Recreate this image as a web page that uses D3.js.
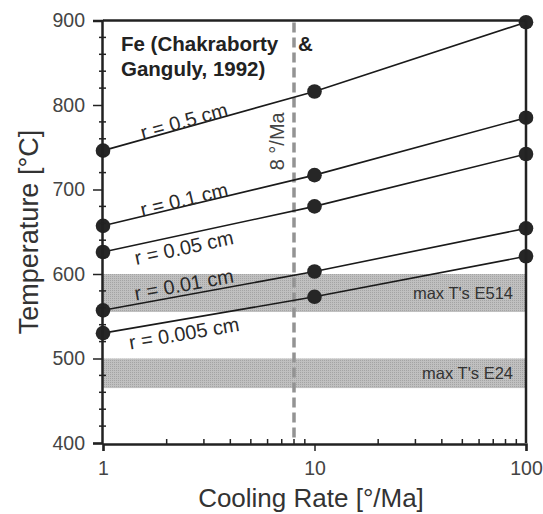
<!DOCTYPE html>
<html>
<head>
<meta charset="utf-8">
<script src="https://cdn.jsdelivr.net/npm/d3@7"></script>
<style>
  body { margin: 0; background: #fff; }
  svg { font-family: "Liberation Sans", Arial, sans-serif; }
</style>
</head>
<body>
<script>
// cooling rates (°/Ma) at which closure T was computed
const rates = [1, 10, 100]
// grain radius labels and closure temperatures (°C)
const radii = ["r = 0.5 cm", "r = 0.1 cm", "r = 0.05 cm", "r = 0.01 cm", "r = 0.005 cm"]
const temps = [
  [746, 816, 898],
  [657, 717, 785],
  [626, 680, 742],
  [557, 603, 654],
  [530, 573, 621]
]
// label offset from line: negative = above, positive = below (px)
const labelSide = [-7, -7, 13, -11, 14]
// shaded bands: max temperatures
const bandNames = ["max T's E514", "max T's E24"]
const bandLow = [555, 465]
const bandHigh = [600, 500]
const refRate = 8
const yTicks = [400, 500, 600, 700, 800, 900]
const xTicks = [1, 10, 100]

const W = 543, H = 514
const margin = {top: 20.5, right: 17, bottom: 71, left: 103}

const svg = d3.select("body").append("svg").attr("width", W).attr("height", H)

const x = d3.scaleLog().domain([1, 100]).range([margin.left, W - margin.right])
const y = d3.scaleLinear().domain([400, 900]).range([H - margin.bottom, margin.top])

// stipple pattern for bands
const defs = svg.append("defs")
const pat = defs.append("pattern").attr("id", "stip")
  .attr("width", 2).attr("height", 2).attr("patternUnits", "userSpaceOnUse")
pat.append("rect").attr("width", 2).attr("height", 2).attr("fill", "#c0c0c0")
pat.append("rect").attr("width", 1).attr("height", 1).attr("fill", "#a4a4a4")

// bands
svg.selectAll(".band").data(bandNames).enter().append("rect")
  .attr("class", "band")
  .attr("x", x(1)).attr("width", x(100) - x(1))
  .attr("y", (d, i) => y(bandHigh[i]))
  .attr("height", (d, i) => y(bandLow[i]) - y(bandHigh[i]))
  .attr("fill", "url(#stip)")

svg.selectAll(".bandlabel").data(bandNames).enter().append("text")
  .attr("x", x(100) - 13)
  .attr("y", (d, i) => y((bandLow[i] + bandHigh[i]) / 2))
  .attr("dy", "0.35em")
  .attr("text-anchor", "end")
  .attr("font-size", 16.5)
  .attr("fill", "#333")
  .text(d => d)

// dashed reference line
svg.append("line")
  .attr("x1", x(refRate)).attr("x2", x(refRate))
  .attr("y1", y(900) + 2).attr("y2", y(400) - 2)
  .attr("stroke", "#939393").attr("stroke-width", 3.5)
  .attr("stroke-dasharray", "10,5")

svg.append("text")
  .attr("transform", `translate(${x(refRate) - 10},${y(757)}) rotate(-90)`)
  .attr("text-anchor", "middle")
  .attr("font-size", 20)
  .attr("fill", "#444")
  .text("8 °/Ma")

// title, split where the dashed line crosses
const title = svg.append("g")
  .attr("font-size", 20.5).attr("font-weight", "bold").attr("fill", "#222")
title.append("text").attr("x", 121).attr("y", 51).text("Fe (Chakraborty")
title.append("text").attr("x", x(refRate) + 4).attr("y", 51).text("&")
title.append("text").attr("x", 121).attr("y", 76).text("Ganguly, 1992)")

// lines + points
const line = d3.line().x((d, i) => x(rates[i])).y(d => y(d))

svg.selectAll(".cline").data(temps).enter().append("path")
  .attr("class", "cline")
  .attr("d", d => line(d))
  .attr("fill", "none").attr("stroke", "#1a1a1a").attr("stroke-width", 1.6)

temps.forEach(function(row) {
  svg.selectAll(null).data(row).enter().append("circle")
    .attr("cx", (d, i) => x(rates[i]))
    .attr("cy", d => y(d))
    .attr("r", 7.3)
    .attr("fill", "#262626")
})

// line labels along the first segment
temps.forEach(function(row, k) {
  const lx = 184
  const t = (lx - x(1)) / (x(10) - x(1))
  const ly = y(row[0] + t * (row[1] - row[0])) + labelSide[k]
  const ang = Math.atan2(y(row[1]) - y(row[0]), x(10) - x(1)) * 180 / Math.PI
  svg.append("text")
    .attr("transform", `translate(${lx},${ly}) rotate(${ang})`)
    .attr("text-anchor", "middle")
    .attr("dy", "0.35em")
    .attr("font-size", 20)
    .attr("fill", "#2a2a2a")
    .text(radii[k])
})

// frame: top and right
svg.append("line").attr("x1", x(1)).attr("x2", x(100)).attr("y1", y(900)).attr("y2", y(900))
  .attr("stroke", "#222").attr("stroke-width", 2.5)
svg.append("line").attr("x1", x(100)).attr("x2", x(100)).attr("y1", y(900)).attr("y2", y(400))
  .attr("stroke", "#222").attr("stroke-width", 2.5)

// y axis
const yAxis = d3.axisLeft(y).tickValues(yTicks).tickSize(9).tickPadding(8)
const gy = svg.append("g").attr("transform", `translate(${x(1) - 1},0)`).call(yAxis)
gy.selectAll(".domain").attr("stroke", "#222").attr("stroke-width", 2.5)
gy.selectAll(".tick line").attr("stroke", "#222").attr("stroke-width", 1.5)
gy.selectAll(".tick text").attr("font-size", 19.5).attr("fill", "#444").attr("font-family", "Liberation Sans, Arial, sans-serif")

const yMinor = d3.range(420, 900, 20).filter(v => v % 100 !== 0)
svg.selectAll(".yminor").data(yMinor).enter().append("line")
  .attr("x1", x(1) - 4).attr("x2", x(1) + 3)
  .attr("y1", d => y(d)).attr("y2", d => y(d))
  .attr("stroke", "#222").attr("stroke-width", 1.5)

// x axis
const xAxis = d3.axisBottom(x).tickValues(xTicks).tickFormat(d3.format("d")).tickSize(7).tickPadding(10)
const gx = svg.append("g").attr("transform", `translate(0,${y(400) + 1})`).call(xAxis)
gx.selectAll(".domain").attr("stroke", "#222").attr("stroke-width", 2.5)
gx.selectAll(".tick line").attr("stroke", "#222").attr("stroke-width", 1.5)
gx.selectAll(".tick text").attr("font-size", 19.5).attr("fill", "#444").attr("font-family", "Liberation Sans, Arial, sans-serif")

const xMinor = [2, 3, 4, 5, 6, 7, 8, 9, 20, 30, 40, 50, 60, 70, 80, 90]
svg.selectAll(".xminor").data(xMinor).enter().append("line")
  .attr("x1", d => x(d)).attr("x2", d => x(d))
  .attr("y1", y(400) - 4).attr("y2", y(400) + 1)
  .attr("stroke", "#222").attr("stroke-width", 1.5)

// axis titles
svg.append("text")
  .attr("x", 311).attr("y", 507)
  .attr("text-anchor", "middle").attr("font-size", 26).attr("fill", "#333")
  .text("Cooling Rate [°/Ma]")

svg.append("text")
  .attr("transform", `translate(38,232) rotate(-90)`)
  .attr("text-anchor", "middle").attr("font-size", 27).attr("fill", "#333")
  .text("Temperature [°C]")
</script>
</body>
</html>
